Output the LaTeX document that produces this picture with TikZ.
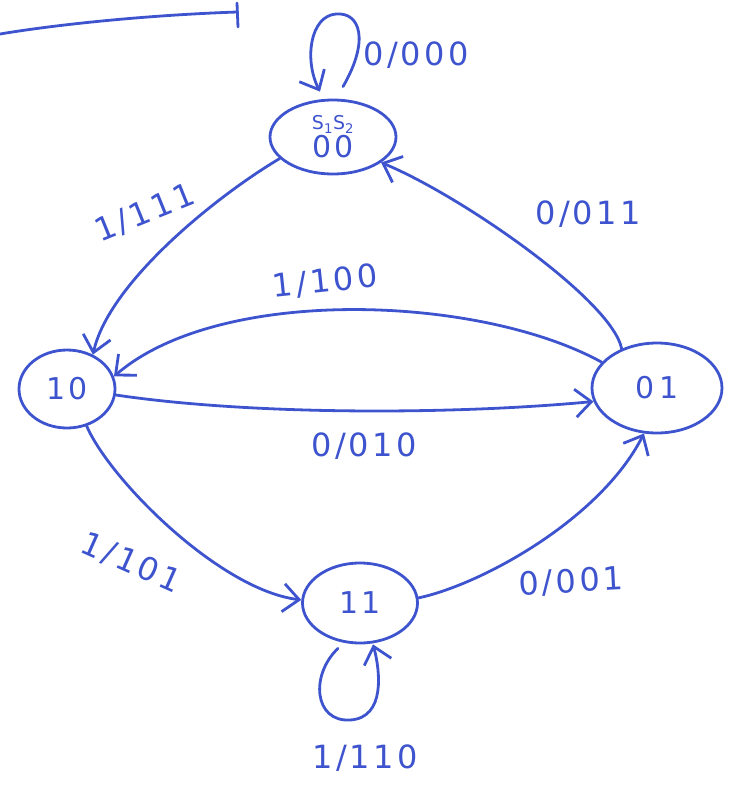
\documentclass[tikz,border=0pt]{standalone}
\usepackage{fontspec}
\setmainfont{DejaVu Sans}
\newfontfamily\penfont[LetterSpace=10]{DejaVu Sans}
\usetikzlibrary{shapes.geometric,arrows.meta}
\definecolor{pen}{RGB}{62,84,206}
\tikzset{
  state/.style={draw=pen, line width=2.8pt, ellipse, inner sep=0pt, text=pen, font=\penfont\fontsize{30}{30}\selectfont},
  edge/.style={draw=pen, line width=2.8pt, line cap=round, line join=round,
               -{Straight Barb[length=16pt,width=28pt,line width=2.8pt]}},
  lbl/.style={text=pen, inner sep=0pt, font=\penfont\fontsize{32}{32}\selectfont},
}
\begin{document}
\begin{tikzpicture}[x=1pt,y=-1pt]
\useasboundingbox (0,0) rectangle (735,788);

% heading underline with end tick
\draw[pen, line width=2.8pt, line cap=round] (0,34) .. controls (60,24) and (150,15) .. (237,12);
\draw[pen, line width=2.8pt, line cap=round] (237,3) -- (238,27);

% states
\node[state, minimum width=126pt, minimum height=74pt, align=center] (s00) at (333,137)
  {{\fontsize{19}{19}\selectfont S\textsubscript{1}S\textsubscript{2}}\\[-2pt]00};
\node[state, minimum width=96pt, minimum height=78pt] (s10) at (67,389) {10};
\node[state, minimum width=130pt, minimum height=90pt] (s01) at (657,388) {0\,1};
\node[state, minimum width=115pt, minimum height=80pt] (s11) at (360,603) {11};

% transitions
\draw[edge] (s00.202) .. controls (215,197) and (109,283) .. (s10.53);
\draw[edge] (s01.132) .. controls (612,300) and (460,195) .. (s00.332);
\draw[edge] (s01.155) .. controls (480,295) and (220,285) .. (s10.15);
\draw[edge] (s10.-7) .. controls (250,415) and (450,415) .. (s01.192);
\draw[edge] (s10.298) .. controls (110,480) and (220,590) .. (s11.177);
\draw[edge] (s11.5) .. controls (480,585) and (600,520) .. (s01.254);

% self loops
\draw[edge] ([shift={(10,-12)}]s00.north) .. controls (370,40) and (360,12) .. (336,14)
  .. controls (310,16) and (304,60) .. ([shift={(-13,-7)}]s00.north);
\draw[edge] ([shift={(-22,4)}]s11.south) .. controls (310,675) and (314,722) .. (350,720)
  .. controls (386,718) and (380,670) .. ([shift={(13,0)}]s11.south);

% transition labels
\node[lbl] (l000) at (416,55) {0/000};
\node[lbl, rotate=22] (l111) at (145,213) {1/111};
\node[lbl] (l011) at (588,214) {0/011};
\node[lbl, rotate=6] (l100) at (325,282) {1/100};
\node[lbl] (l010) at (364,446) {0/010};
\node[lbl, rotate=-24] (l101) at (131,563) {1/101};
\node[lbl, rotate=3] (l001) at (571,582) {0/001};
\node[lbl] (l110) at (365,758) {1/110};
\end{tikzpicture}
\end{document}
